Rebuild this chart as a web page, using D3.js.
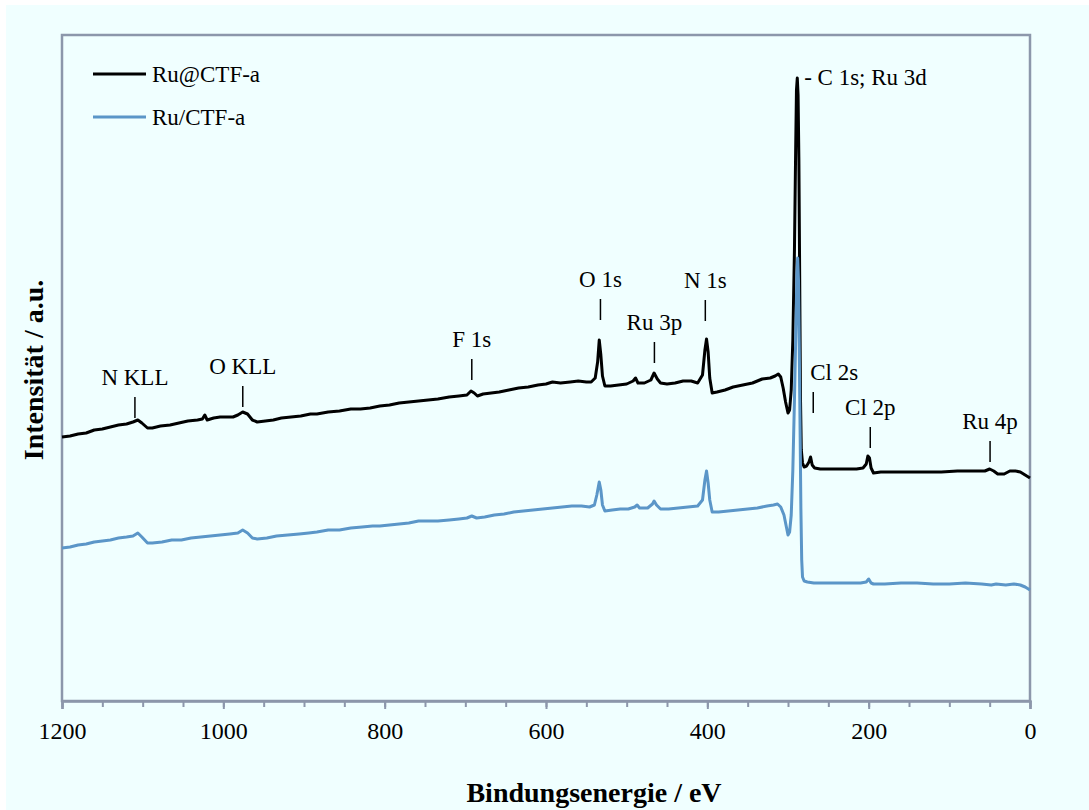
<!DOCTYPE html>
<html>
<head>
<meta charset="utf-8">
<script src="https://cdn.jsdelivr.net/npm/d3@7"></script>
<style>
  body { margin: 0; background: #ffffff; }
  svg { display: block; }
</style>
</head>
<body>
<div id="chart"></div>
<script>
// binding energy (eV) and intensity (a.u.)
var ruAtEnergy = [1200,1190,1180,1170,1160,1150,1140,1130,1120,1112,1106,1101,1094,1088,1078,1066,1055,1044,1032,1026,1023,1020,1012,1004,996,988,982,976,970,964,958,948,938,928,916,904,892,884,870,856,842,830,818,806,794,782,770,758,746,734,720,708,698,693,689,685,678,668,658,646,634,622,610,600,592,582,570,560,550,544,539,536,534,532,530,527,520,510,500,492,489,486,478,470,466,462,458,450,440,430,420,412,406,403,401,399,397,394,388,378,368,356,344,332,322,316,312,309,306,303,300,298,296,294,292,290.5,289.5,288.5,287.5,286.5,285.5,284.5,283.5,282,280,277,274,272,270,267,260,245,230,215,207,203,201,199,197,194,185,170,150,130,110,90,70,56,50,45,40,32,25,18,12,6,0];
var ruAtInt = [264,265,267,268,271,272,274,276,277,279,281,278,273,273,275,276,278,280,281,282,286,281,283,284,284,284,286,289,287,281,279,280,281,283,284,285,287,287,289,290,292,292,293,295,296,298,299,300,301,302,304,305,306,310,308,305,307,308,309,311,313,314,316,317,319,318,319,320,319,319,323,339,361,346,325,315,315,316,317,320,323,318,318,321,328,322,318,317,318,320,320,318,326,351,362,349,323,308,309,311,314,316,318,322,323,325,327,324,313,299,288,291,311,361,451,551,611,623,606,541,421,301,251,238,234,235,239,244,236,233,232,232,232,232,233,237,245,243,233,228,229,229,229,229,229,230,230,230,232,230,227,227,230,230,229,226,223];

var ruOnEnergy = [1200,1190,1180,1170,1160,1150,1140,1130,1120,1112,1106,1101,1094,1088,1076,1064,1052,1040,1028,1016,1004,992,982,976,970,964,958,946,934,920,906,894,884,870,856,842,828,815,806,794,782,770,758,746,734,720,708,698,692,686,676,664,652,640,628,616,604,592,580,568,556,546,540,537,534,532,530,527,518,508,498,490,487,484,474,468,466,463,458,448,436,424,412,406,403,401,399,397,394,386,374,362,350,338,326,318,313,309,305,302,300,298,296,294,292,290,289,288,287,286,285,284,283,282,280,276,268,255,240,225,210,203,200,197,194,180,160,140,120,100,80,60,48,42,30,20,12,6,0];
var ruOnInt = [153,154,156,157,159,160,161,163,164,165,168,164,158,158,159,161,161,163,164,165,166,167,168,171,168,163,162,163,165,166,167,168,169,171,171,173,174,175,175,176,177,178,180,180,180,181,182,183,185,183,184,186,187,189,190,191,192,193,194,195,195,194,196,206,219,211,196,190,191,192,192,194,196,193,193,197,200,196,192,192,193,194,195,201,221,230,218,201,189,189,190,191,192,193,195,196,197,194,186,174,166,169,186,231,301,381,426,443,421,351,271,191,141,124,120,119,118,118,118,118,118,119,122,118,117,117,118,118,117,117,118,117,116,117,116,117,116,114,111];

var seriesNames = ["Ru@CTF-a", "Ru/CTF-a"];
var seriesColors = ["#000000", "#5b96c8"];

var majorTicks = [1200, 1000, 800, 600, 400, 200, 0];
var minorTicks = d3.range(0, 1201, 50);

// peak assignments: label, energy, intensity at the foot of the marker
var peakLabels = ["N KLL", "O KLL", "F 1s", "O 1s", "Ru 3p", "N 1s", "Cl 2s", "Cl 2p", "Ru 4p"];
var peakEnergy = [1109.6, 975.9, 692, 532.5, 465.6, 402.5, 268.7, 198, 49.5];
var peakFoot = [283, 294, 321, 381, 338, 380, 288, 253, 239];

var W = 1089, H = 810;
var margin = {top: 35, right: 59, bottom: 109, left: 62};
var width = W - margin.left - margin.right,
    height = H - margin.top - margin.bottom;

var frameColor = "#8c97ab";
var font = "'Liberation Serif', 'Times New Roman', serif";

var svg = d3.select("#chart").append("svg")
  .attr("width", W)
  .attr("height", H);

svg.append("rect")
  .attr("x", 6).attr("y", 5)
  .attr("width", W - 6).attr("height", H - 5)
  .attr("fill", "#f0ffff");

var g = svg.append("g")
  .attr("transform", "translate(" + margin.left + "," + margin.top + ")");

var x = d3.scaleLinear().domain([1200, 0]).range([0, width]);
var y = d3.scaleLinear().domain([0, 666]).range([height, 0]);

// frame
g.append("rect")
  .attr("width", width).attr("height", height)
  .attr("fill", "none")
  .attr("stroke", frameColor)
  .attr("stroke-width", 2.5);

// minor ticks
var minorAxis = g.append("g")
  .attr("transform", "translate(0," + height + ")")
  .call(d3.axisBottom(x).tickValues(minorTicks).tickSize(6).tickFormat(""));
minorAxis.select(".domain").remove();
minorAxis.selectAll("line").attr("stroke", frameColor).attr("stroke-width", 2);

// major ticks with labels
var majorAxis = g.append("g")
  .attr("transform", "translate(0," + height + ")")
  .call(d3.axisBottom(x).tickValues(majorTicks).tickSize(8).tickPadding(13).tickFormat(d3.format("d")));
majorAxis.select(".domain").attr("stroke", frameColor).attr("stroke-width", 2.5);
majorAxis.selectAll("line").attr("stroke", frameColor).attr("stroke-width", 2);
majorAxis.selectAll("text")
  .attr("font-family", font)
  .attr("font-size", "24px")
  .attr("fill", "#000");

// axis titles
svg.append("text")
  .attr("x", 594)
  .attr("y", 802)
  .attr("text-anchor", "middle")
  .attr("font-family", font)
  .attr("font-weight", "bold")
  .attr("font-size", "28px")
  .text("Bindungsenergie / eV");

svg.append("text")
  .attr("transform", "translate(43," + 370 + ") rotate(-90)")
  .attr("text-anchor", "middle")
  .attr("font-family", font)
  .attr("font-weight", "bold")
  .attr("font-size", "28px")
  .text("Intensität / a.u.");

// spectra
var line = d3.line()
  .x(function(d) { return x(d[0]); })
  .y(function(d) { return y(d[1]); });

var spectra = [
  d3.zip(ruAtEnergy, ruAtInt),
  d3.zip(ruOnEnergy, ruOnInt)
];

g.selectAll(".spectrum")
  .data(spectra)
  .enter()
  .append("path")
  .attr("class", "spectrum")
  .attr("d", line)
  .attr("fill", "none")
  .attr("stroke", function(d, i) { return seriesColors[i]; })
  .attr("stroke-width", 3)
  .attr("stroke-linejoin", "round");

// peak markers
var marks = g.selectAll(".peak")
  .data(peakLabels)
  .enter()
  .append("g")
  .attr("class", "peak")
  .attr("transform", function(d, i) {
    return "translate(" + x(peakEnergy[i]) + "," + y(peakFoot[i]) + ")";
  });

marks.append("line")
  .attr("y1", -21).attr("y2", 0)
  .attr("stroke", "#000")
  .attr("stroke-width", 1.5);

marks.append("text")
  .attr("y", -33)
  .attr("x", function(d) { return d == "Cl 2s" ? -3 : 0; })
  .attr("text-anchor", function(d) { return d == "Cl 2s" ? "start" : "middle"; })
  .attr("font-family", font)
  .attr("font-size", "23px")
  .text(function(d) { return d; });

// main peak label
g.append("text")
  .attr("x", x(280))
  .attr("y", y(616))
  .attr("font-family", font)
  .attr("font-size", "23px")
  .text("- C 1s; Ru 3d");

// legend
var legend = svg.selectAll(".legend")
  .data(seriesNames)
  .enter()
  .append("g")
  .attr("class", "legend")
  .attr("transform", function(d, i) { return "translate(93," + (74 + i * 43) + ")"; });

legend.append("line")
  .attr("x1", 0).attr("x2", 53)
  .attr("stroke", function(d, i) { return seriesColors[i]; })
  .attr("stroke-width", 3);

legend.append("text")
  .attr("x", 59)
  .attr("y", 8)
  .attr("font-family", font)
  .attr("font-size", "23px")
  .text(function(d) { return d; });
</script>
</body>
</html>
